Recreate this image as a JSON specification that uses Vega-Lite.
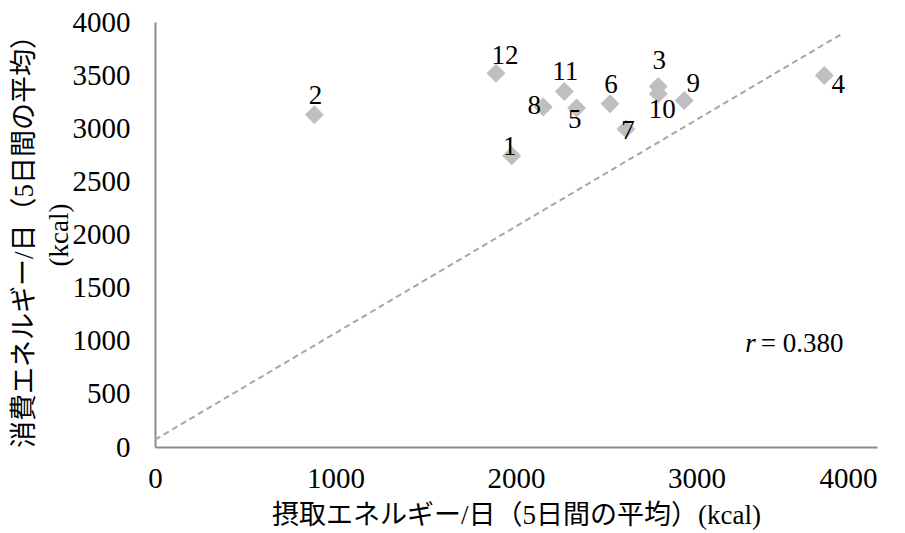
{
  "$schema": "https://vega.github.io/schema/vega-lite/v6.json",
  "width": 722,
  "height": 425,
  "autosize": "none",
  "padding": {"left": 155, "top": 22, "right": 28, "bottom": 86},
  "config": {
    "view": {"stroke": null},
    "font": "Liberation Serif, Noto Sans CJK JP",
    "axis": {
      "grid": false,
      "ticks": false,
      "tickSize": 0,
      "domainColor": "#8c8c8c",
      "domainWidth": 2,
      "labelFont": "Liberation Serif",
      "labelFontSize": 29,
      "labelColor": "#000000",
      "titleFont": "Liberation Serif, Noto Sans CJK JP",
      "titleFontSize": 27,
      "titleFontWeight": "normal",
      "titleColor": "#000000",
      "format": "d"
    }
  },
  "data": {
    "values": [
      {"id": "1", "intake": 1976, "expend": 2742},
      {"id": "2", "intake": 883, "expend": 3127},
      {"id": "3", "intake": 2788, "expend": 3393},
      {"id": "4", "intake": 3708, "expend": 3496},
      {"id": "5", "intake": 2336, "expend": 3190},
      {"id": "6", "intake": 2521, "expend": 3230},
      {"id": "7", "intake": 2609, "expend": 2993},
      {"id": "8", "intake": 2151, "expend": 3199},
      {"id": "9", "intake": 2932, "expend": 3261},
      {"id": "10", "intake": 2788, "expend": 3324},
      {"id": "11", "intake": 2268, "expend": 3346},
      {"id": "12", "intake": 1889, "expend": 3518}
    ]
  },
  "layer": [
    {
      "mark": {"type": "point", "shape": "diamond", "filled": true, "size": 360, "color": "#bfbfc1", "opacity": 1},
      "encoding": {
        "x": {
          "field": "intake", "type": "quantitative",
          "scale": {"domain": [0, 4000], "nice": false},
          "axis": {"title": "摂取エネルギー/日（5日間の平均）(kcal)", "values": [0, 1000, 2000, 3000, 4000], "format": "d", "labelPadding": 17, "titlePadding": 9, "labelFlush": false, "labelAlign": {"condition": {"test": "datum.value == 4000", "value": "right"}, "value": "center"}}
        },
        "y": {
          "field": "expend", "type": "quantitative",
          "scale": {"domain": [0, 4000], "nice": false},
          "axis": {"title": ["消費エネルギー/日（5日間の平均）", "(kcal)"], "values": [0, 500, 1000, 1500, 2000, 2500, 3000, 3500, 4000], "format": "d", "labelPadding": 25, "titlePadding": -1, "titleLineHeight": 35}
        }
      }
    },
    {
      "data": {"values": [{}]},
      "mark": {"type": "rule", "strokeDash": [6, 4], "color": "#a6a6a6", "strokeWidth": 2},
      "encoding": {
        "x": {"datum": 0, "type": "quantitative"},
        "y": {"datum": 69, "type": "quantitative"},
        "x2": {"datum": 3804},
        "y2": {"datum": 3887}
      }
    },
    {
      "transform": [{"filter": {"field": "id", "oneOf": ["11", "6", "2"]}}],
      "mark": {"type": "text", "fontSize": 27, "font": "Liberation Serif", "dx": 1, "dy": -19, "align": "center", "baseline": "middle", "color": "#000000"},
      "encoding": {"x": {"field": "intake", "type": "quantitative"}, "y": {"field": "expend", "type": "quantitative"}, "text": {"field": "id"}}
    },
    {
      "transform": [{"filter": {"field": "id", "oneOf": ["3"]}}],
      "mark": {"type": "text", "fontSize": 27, "font": "Liberation Serif", "dx": 1, "dy": -25, "align": "center", "baseline": "middle", "color": "#000000"},
      "encoding": {"x": {"field": "intake", "type": "quantitative"}, "y": {"field": "expend", "type": "quantitative"}, "text": {"field": "id"}}
    },
    {
      "transform": [{"filter": {"field": "id", "oneOf": ["12", "9"]}}],
      "mark": {"type": "text", "fontSize": 27, "font": "Liberation Serif", "dx": 9, "dy": -17, "align": "center", "baseline": "middle", "color": "#000000"},
      "encoding": {"x": {"field": "intake", "type": "quantitative"}, "y": {"field": "expend", "type": "quantitative"}, "text": {"field": "id"}}
    },
    {
      "transform": [{"filter": {"field": "id", "oneOf": ["8"]}}],
      "mark": {"type": "text", "fontSize": 27, "font": "Liberation Serif", "dx": -9, "dy": -1, "align": "center", "baseline": "middle", "color": "#000000"},
      "encoding": {"x": {"field": "intake", "type": "quantitative"}, "y": {"field": "expend", "type": "quantitative"}, "text": {"field": "id"}}
    },
    {
      "transform": [{"filter": {"field": "id", "oneOf": ["1"]}}],
      "mark": {"type": "text", "fontSize": 27, "font": "Liberation Serif", "dx": -2, "dy": -9, "align": "center", "baseline": "middle", "color": "#000000"},
      "encoding": {"x": {"field": "intake", "type": "quantitative"}, "y": {"field": "expend", "type": "quantitative"}, "text": {"field": "id"}}
    },
    {
      "transform": [{"filter": {"field": "id", "oneOf": ["5"]}}],
      "mark": {"type": "text", "fontSize": 27, "font": "Liberation Serif", "dx": -2, "dy": 12, "align": "center", "baseline": "middle", "color": "#000000"},
      "encoding": {"x": {"field": "intake", "type": "quantitative"}, "y": {"field": "expend", "type": "quantitative"}, "text": {"field": "id"}}
    },
    {
      "transform": [{"filter": {"field": "id", "oneOf": ["10"]}}],
      "mark": {"type": "text", "fontSize": 27, "font": "Liberation Serif", "dx": 4, "dy": 16, "align": "center", "baseline": "middle", "color": "#000000"},
      "encoding": {"x": {"field": "intake", "type": "quantitative"}, "y": {"field": "expend", "type": "quantitative"}, "text": {"field": "id"}}
    },
    {
      "transform": [{"filter": {"field": "id", "oneOf": ["4"]}}],
      "mark": {"type": "text", "fontSize": 27, "font": "Liberation Serif", "dx": 14, "dy": 9, "align": "center", "baseline": "middle", "color": "#000000"},
      "encoding": {"x": {"field": "intake", "type": "quantitative"}, "y": {"field": "expend", "type": "quantitative"}, "text": {"field": "id"}}
    },
    {
      "transform": [{"filter": {"field": "id", "oneOf": ["7"]}}],
      "mark": {"type": "text", "fontSize": 27, "font": "Liberation Serif", "dx": 2, "dy": 2, "align": "center", "baseline": "middle", "color": "#000000"},
      "encoding": {"x": {"field": "intake", "type": "quantitative"}, "y": {"field": "expend", "type": "quantitative"}, "text": {"field": "id"}}
    },
    {
      "data": {"values": [{}]},
      "mark": {"type": "text", "fontSize": 27, "font": "Liberation Serif", "fontStyle": "italic", "align": "right", "baseline": "middle", "dx": -4, "color": "#000000"},
      "encoding": {"x": {"datum": 3350, "type": "quantitative"}, "y": {"datum": 967, "type": "quantitative"}, "text": {"value": "r"}}
    },
    {
      "data": {"values": [{}]},
      "mark": {"type": "text", "fontSize": 27, "font": "Liberation Serif", "align": "left", "baseline": "middle", "dx": 1, "color": "#000000"},
      "encoding": {"x": {"datum": 3350, "type": "quantitative"}, "y": {"datum": 967, "type": "quantitative"}, "text": {"value": "= 0.380"}}
    }
  ]
}
